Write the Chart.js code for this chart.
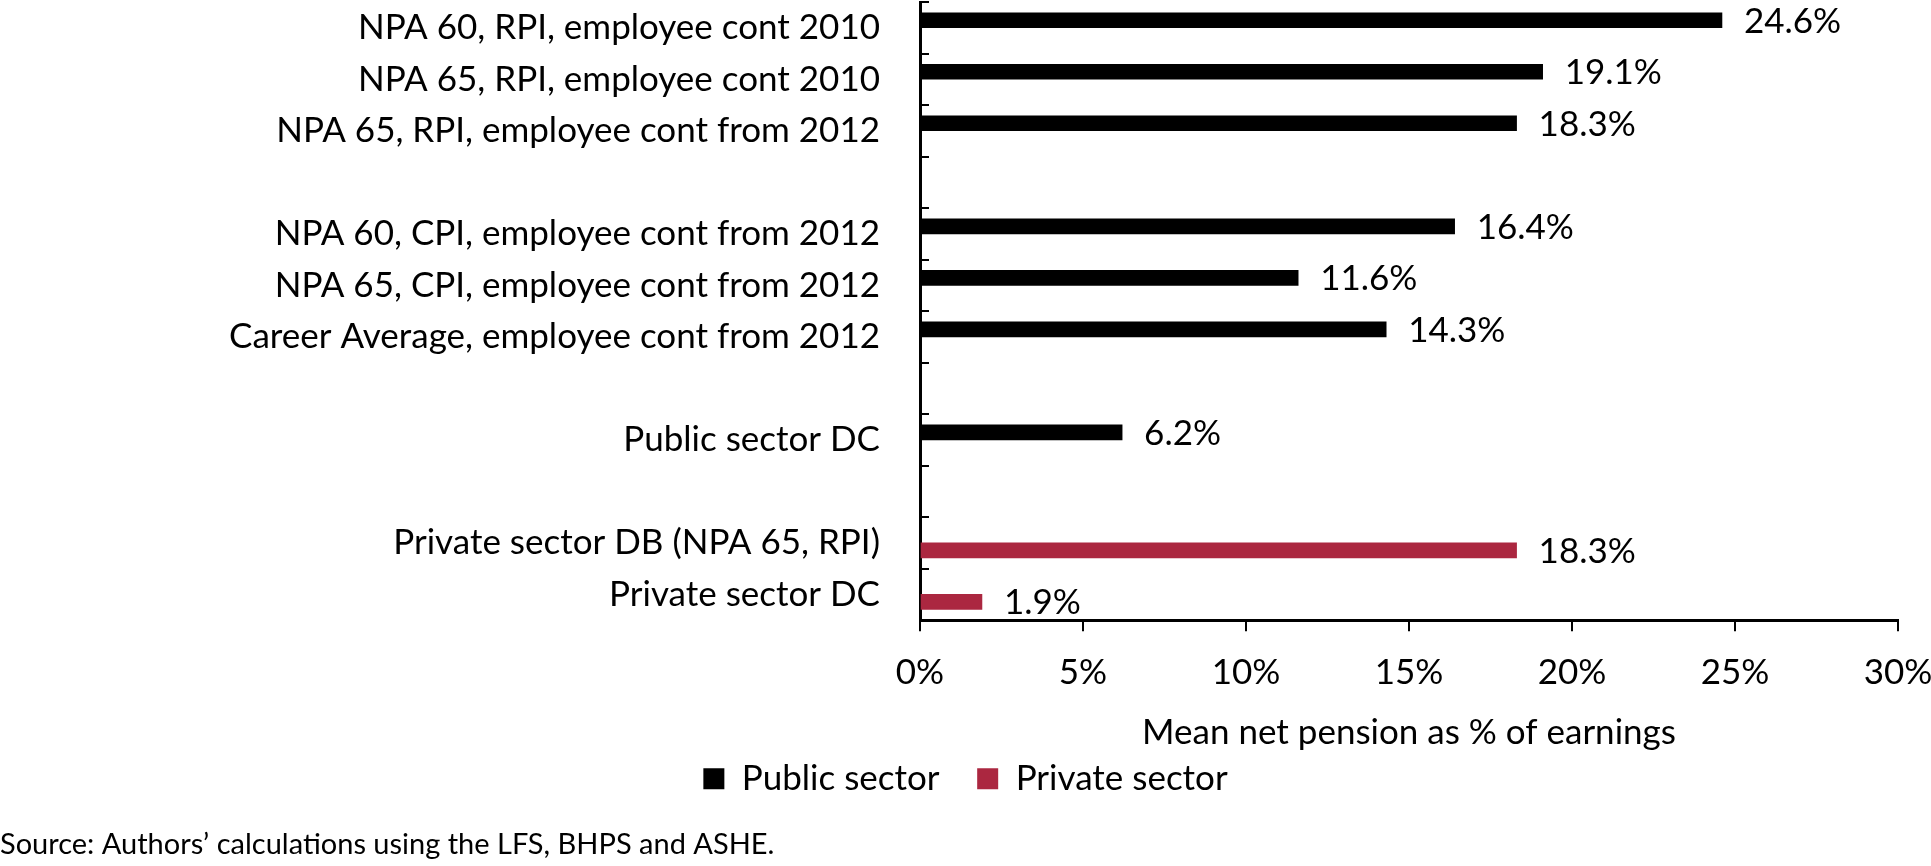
<!DOCTYPE html>
<html>
<head>
<meta charset="utf-8">
<script src="https://cdn.jsdelivr.net/npm/chart.js@4.4.1/dist/chart.umd.min.js"></script>
<style>
  html, body { margin: 0; padding: 0; background: #fff; }
  #wrap { width: 1931px; height: 866px; }
</style>
</head>
<body>
<div id="wrap"><canvas id="pensionChart"></canvas></div>
<script>
// categories (blank strings are the spacer rows)
const categories = [
  'NPA 60, RPI, employee cont 2010',
  'NPA 65, RPI, employee cont 2010',
  'NPA 65, RPI, employee cont from 2012',
  '',
  'NPA 60, CPI, employee cont from 2012',
  'NPA 65, CPI, employee cont from 2012',
  'Career Average, employee cont from 2012',
  '',
  'Public sector DC',
  '',
  'Private sector DB (NPA 65, RPI)',
  'Private sector DC'
];
const publicSector = [24.6, 19.1, 18.3, null, 16.4, 11.6, 14.3, null, 6.2, null, null, null];
const privateSector = [null, null, null, null, null, null, null, null, null, null, 18.3, 1.9];
const xTicks = [0, 5, 10, 15, 20, 25, 30];

const FONT = 'Lato, "Open Sans", sans-serif';
const FS = 35;

// value labels to the right of every bar
const valueLabels = {
  id: 'valueLabels',
  afterDatasetsDraw(chart) {
    const ctx = chart.ctx;
    ctx.save();
    ctx.font = FS + 'px ' + FONT;
    ctx.fillStyle = '#000';
    ctx.textAlign = 'left';
    ctx.textBaseline = 'middle';
    chart.data.datasets.forEach((ds, i) => {
      chart.getDatasetMeta(i).data.forEach((bar, j) => {
        const v = ds.data[j];
        if (v === null || v === undefined) return;
        ctx.fillText(v.toFixed(1) + '%', bar.x + 22, bar.y + 1);
      });
    });
    ctx.restore();
  }
};

new Chart(document.getElementById('pensionChart'), {
  type: 'bar',
  data: {
    labels: categories,
    datasets: [
      { label: 'Public sector', data: publicSector, backgroundColor: '#000000', borderWidth: 0, barThickness: 15 },
      { label: 'Private sector', data: privateSector, backgroundColor: '#AB2740', borderWidth: 0, barThickness: 15 }
    ]
  },
  options: {
    indexAxis: 'y',
    responsive: true,
    maintainAspectRatio: false,
    animation: false,
    layout: { padding: { top: 2, left: 0, right: 0, bottom: 2 } },
    scales: {
      y: {
        afterFit(scale) {
          scale.width = 920;
          scale.paddingTop = 0;
          scale.paddingBottom = 0;
        },
        grid: { drawOnChartArea: false, tickLength: -9, lineWidth: 2, color: '#000' },
        border: { color: '#000', width: 3 },
        ticks: { padding: 49, color: '#000', font: { family: FONT, size: FS }, autoSkip: false }
      },
      x: {
        min: 0,
        max: 30,
        afterBuildTicks(scale) { scale.ticks = xTicks.map(v => ({ value: v })); },
        afterFit(scale) {
          scale.paddingRight = 33;
          scale.height = 134;
        },
        grid: { drawOnChartArea: false, tickLength: 11, lineWidth: 2, color: '#000' },
        border: { color: '#000', width: 3 },
        ticks: {
          padding: 21,
          color: '#000',
          font: { family: FONT, size: FS },
          callback: v => v + '%'
        },
        title: {
          display: true,
          text: 'Mean net pension as % of earnings',
          color: '#000',
          font: { family: FONT, size: FS },
          padding: { top: 0, bottom: 0 }
        }
      }
    },
    plugins: {
      legend: {
        position: 'bottom',
        labels: {
          boxWidth: 21,
          boxHeight: 21,
          color: '#000',
          padding: 7,
          font: { family: FONT, size: FS },
          // wider gap between the two legend entries
          generateLabels(chart) {
            const items = Chart.defaults.plugins.legend.labels.generateLabels(chart);
            items.forEach((it, i) => {
              if (i < items.length - 1) it.text = it.text + '\u2003\u2009';
            });
            return items;
          }
        }
      },
      title: {
        display: true,
        position: 'bottom',
        align: 'start',
        text: 'Source: Authors\u2019 calculations using the LFS, BHPS and ASHE.',
        color: '#000',
        font: { family: FONT, size: 29, weight: 'normal' },
        padding: { top: 21, bottom: 2 }
      },
      tooltip: { enabled: false }
    }
  },
  plugins: [valueLabels]
});
</script>
</body>
</html>
